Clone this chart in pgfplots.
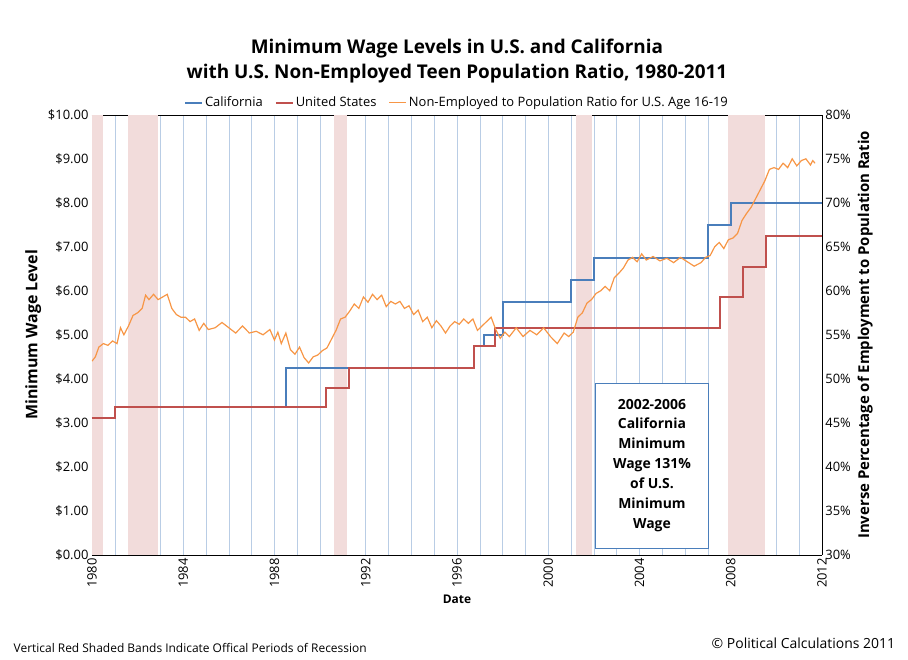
\documentclass[border=0pt]{standalone}
\usepackage{pgfplots}
\pgfplotsset{compat=1.18}
\usepackage{fontspec}
\setmainfont{Open Sans}
\definecolor{cablue}{RGB}{74,126,187}
\definecolor{usred}{RGB}{192,80,77}
\definecolor{teen}{RGB}{247,150,70}
\definecolor{band}{RGB}{242,220,219}
\definecolor{gridb}{RGB}{185,205,229}
\begin{document}
\begin{tikzpicture}
\pgfplotsset{every axis/.append style={scale only axis,width=730bp,height=440bp,
  xmin=1980,xmax=2012,
  tick label style={font=\fontsize{13}{15}\selectfont},
  /pgf/number format/assume math mode=true}}
\begin{axis}[
  ymin=0,ymax=10,ytick={0,1,...,10},
  yticklabel={\$\pgfmathprintnumber[fixed,fixed zerofill,precision=2]{\tick}},
  axis y line*=left,
  xtick={1980,1984,...,2012},
  xticklabel={\pgfmathprintnumber[1000 sep=]{\tick}},
  x tick label style={rotate=90,anchor=east},
  minor xtick={1981,1982,...,2011},
  xmajorgrids,xminorgrids,
  major grid style={gridb},minor grid style={gridb},
  tick style={draw=none},
  xlabel={\bfseries Date},
  xlabel style={font=\fontsize{12}{14}\selectfont},
  ylabel={\bfseries Minimum Wage Level},
  ylabel style={font=\fontsize{16}{18}\selectfont},
  title={\bfseries Minimum Wage Levels in U.S. and California\\\bfseries with U.S. Non-Employed Teen Population Ratio, 1980-2011},
  title style={font=\fontsize{19}{25}\selectfont,align=center,yshift=22bp},
  legend style={at={(0.5,1.005)},anchor=south,draw=none,legend columns=3,
    font=\fontsize{13}{15}\selectfont,/tikz/every even column/.append style={column sep=10pt}},
  legend cell align=left,
]
\addplot[fill=band,draw=none,forget plot] coordinates {(1980,0)(1980.5,0)(1980.5,10)(1980,10)} -- cycle;
\addplot[fill=band,draw=none,forget plot] coordinates {(1981.6,0)(1982.9,0)(1982.9,10)(1981.6,10)} -- cycle;
\addplot[fill=band,draw=none,forget plot] coordinates {(1990.6,0)(1991.2,0)(1991.2,10)(1990.6,10)} -- cycle;
\addplot[fill=band,draw=none,forget plot] coordinates {(2001.2,0)(2001.9,0)(2001.9,10)(2001.2,10)} -- cycle;
\addplot[fill=band,draw=none,forget plot] coordinates {(2007.9,0)(2009.5,0)(2009.5,10)(2007.9,10)} -- cycle;
\addplot[cablue,line width=2pt,const plot] coordinates {
(1980,3.10)(1981,3.35)(1988.5,4.25)(1996.75,4.75)(1997.17,5.00)(1998,5.75)(2001,6.25)(2002,6.75)(2007,7.50)(2008,8.00)(2012,8.00)};
\addlegendentry{California}
\addplot[usred,line width=2pt,const plot] coordinates {
(1980,3.10)(1981,3.35)(1990.25,3.80)(1991.25,4.25)(1996.75,4.75)(1997.67,5.15)(2007.55,5.85)(2008.55,6.55)(2009.55,7.25)(2012,7.25)};
\addlegendentry{United States}
\addlegendimage{draw=teen,line width=1.5pt}
\addlegendentry{Non-Employed to Population Ratio for U.S. Age 16-19}
\node[draw=cablue,fill=white,align=center,font=\bfseries\fontsize{14}{20}\selectfont,
  minimum width=113bp,minimum height=165bp] at (axis cs:2004.55,2.03)
  {2002-2006\\California\\Minimum\\Wage 131\%\\of U.S.\\Minimum\\Wage};
\coordinate (bl) at (rel axis cs:-0.126,-0.239);
\coordinate (tr) at (rel axis cs:1.118,1.261);
\coordinate (n1) at (rel axis cs:-0.112,-0.230);
\coordinate (n2) at (rel axis cs:1.105,-0.222);
\end{axis}
\begin{axis}[
  ymin=30,ymax=80,ytick={30,35,...,80},
  yticklabel={\pgfmathprintnumber{\tick}\%},
  axis y line*=right,axis x line=none,
  tick style={draw=none},
  ylabel={\bfseries Inverse Percentage of Employment to Population Ratio},
  ylabel style={font=\fontsize{15}{17}\selectfont},
]
\addplot[teen,line width=1.2pt] coordinates {
(1980.0,52.0)(1980.15,52.5)(1980.3,53.6)(1980.5,54.0)(1980.7,53.8)(1980.9,54.3)(1981.1,54.0)(1981.25,55.8)(1981.4,55.0)(1981.6,56.0)(1981.8,57.2)(1982.0,57.5)(1982.2,58.0)(1982.35,59.5)(1982.5,59.0)(1982.7,59.6)(1982.9,59.0)(1983.1,59.3)(1983.3,59.6)(1983.5,58.0)(1983.7,57.3)(1983.9,57.0)(1984.1,57.0)(1984.3,56.5)(1984.5,56.8)(1984.7,55.5)(1984.9,56.3)(1985.1,55.6)(1985.4,55.8)(1985.7,56.4)(1986.0,55.8)(1986.3,55.2)(1986.6,56.0)(1986.9,55.2)(1987.2,55.4)(1987.5,55.0)(1987.8,55.6)(1988.0,54.4)(1988.15,55.3)(1988.3,54.0)(1988.5,55.2)(1988.7,53.3)(1988.9,52.8)(1989.1,53.6)(1989.3,52.4)(1989.5,51.8)(1989.7,52.5)(1989.9,52.7)(1990.1,53.2)(1990.3,53.5)(1990.5,54.5)(1990.7,55.5)(1990.9,56.8)(1991.1,57.0)(1991.3,57.7)(1991.5,58.5)(1991.7,58.0)(1991.9,59.3)(1992.1,58.7)(1992.3,59.6)(1992.5,59.0)(1992.7,59.5)(1992.9,58.2)(1993.1,58.8)(1993.3,58.5)(1993.5,58.8)(1993.7,58.0)(1993.9,58.3)(1994.1,57.3)(1994.3,57.8)(1994.5,56.5)(1994.7,57.0)(1994.9,55.8)(1995.1,56.6)(1995.3,56.0)(1995.5,55.2)(1995.7,56.0)(1995.9,56.5)(1996.1,56.2)(1996.3,56.8)(1996.5,56.3)(1996.7,56.8)(1996.9,55.5)(1997.1,56.0)(1997.3,56.5)(1997.5,57.0)(1997.7,55.6)(1997.9,54.6)(1998.1,55.3)(1998.3,54.8)(1998.6,55.8)(1998.9,54.8)(1999.2,55.5)(1999.5,55.0)(1999.8,55.8)(2000.1,54.8)(2000.4,54.0)(2000.7,55.2)(2000.9,54.8)(2001.1,55.3)(2001.3,57.0)(2001.5,57.5)(2001.7,58.6)(2001.9,59.0)(2002.1,59.7)(2002.3,60.0)(2002.5,60.5)(2002.7,60.0)(2002.9,61.5)(2003.1,62.0)(2003.3,62.6)(2003.5,63.5)(2003.7,63.8)(2003.9,63.3)(2004.1,64.2)(2004.3,63.5)(2004.6,63.9)(2004.9,63.4)(2005.2,63.7)(2005.5,63.2)(2005.8,63.8)(2006.1,63.3)(2006.4,62.8)(2006.7,63.2)(2006.9,63.8)(2007.1,64.0)(2007.3,65.0)(2007.5,65.5)(2007.7,64.8)(2007.9,65.8)(2008.1,66.0)(2008.3,66.5)(2008.5,68.0)(2008.7,68.8)(2008.9,69.5)(2009.1,70.5)(2009.3,71.5)(2009.5,72.5)(2009.7,73.8)(2009.9,74.0)(2010.1,73.8)(2010.3,74.5)(2010.5,74.0)(2010.7,75.0)(2010.9,74.2)(2011.1,74.8)(2011.3,75.0)(2011.5,74.3)(2011.6,74.8)(2011.7,74.5)};
\end{axis}
\node[anchor=south west,font=\fontsize{12}{14}\selectfont] at (n1) {Vertical Red Shaded Bands Indicate Offical Periods of Recession};
\node[anchor=south east,font=\fontsize{14}{16}\selectfont] at (n2) {© Political Calculations 2011};
\pgfresetboundingbox
\path[use as bounding box] (bl) rectangle (tr);
\end{tikzpicture}
\end{document}
